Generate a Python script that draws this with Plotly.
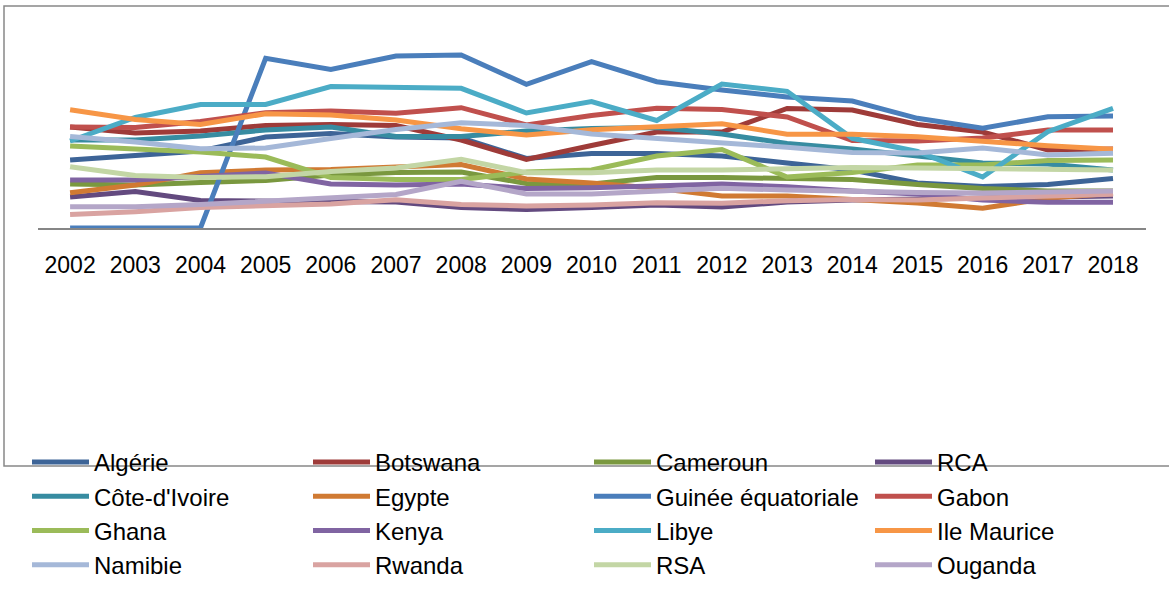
import plotly.graph_objects as go

years = list(range(2002, 2019))

# Indicator values per country, 2002-2018
algerie = [6.80, 7.20, 7.70, 9.10, 9.45, 9.10, 9.00, 6.95, 7.45, 7.45, 7.20, 6.50, 5.80, 4.50, 4.15, 4.35, 4.95]
botswana = [10.10, 9.50, 9.70, 10.25, 10.35, 10.25, 8.80, 6.85, 8.25, 9.60, 9.60, 11.95, 11.80, 10.35, 9.60, 7.80, 7.90]
cameroun = [4.40, 4.30, 4.55, 4.75, 5.30, 5.55, 5.60, 4.45, 4.40, 5.05, 5.05, 4.90, 4.85, 4.35, 3.95, 3.70, 3.70]
rca = [3.10, 3.65, 2.75, 2.70, 2.65, 2.60, 2.05, 1.85, 2.05, 2.30, 2.10, 2.60, 2.80, 2.90, 3.00, 3.10, 3.20]
cote_ivoire = [8.80, 8.80, 9.20, 9.80, 10.10, 9.15, 9.15, 9.70, 9.95, 10.05, 9.40, 8.45, 7.90, 7.20, 6.50, 6.40, 5.80]
egypte = [3.53, 4.30, 5.53, 5.80, 5.85, 6.05, 6.35, 4.90, 4.50, 3.97, 3.20, 3.20, 2.90, 2.50, 1.97, 2.97, 3.47]
guinee_eq = [0.00, 0.00, 0.00, 16.97, 15.85, 17.20, 17.30, 14.37, 16.63, 14.63, 13.80, 13.10, 12.70, 10.97, 9.97, 11.13, 11.20]
gabon = [10.10, 10.05, 10.65, 11.53, 11.70, 11.47, 12.03, 10.30, 11.25, 11.97, 11.85, 11.10, 8.75, 8.70, 9.00, 9.80, 9.80]
ghana = [8.20, 7.95, 7.60, 7.10, 5.05, 4.85, 4.85, 5.60, 5.80, 7.20, 7.85, 5.10, 5.55, 6.30, 6.30, 6.75, 6.80]
kenya = [4.80, 4.80, 5.15, 5.50, 4.40, 4.30, 4.40, 3.95, 4.03, 4.20, 4.40, 4.13, 3.70, 3.40, 2.80, 2.57, 2.57]
libye = [8.70, 11.05, 12.35, 12.35, 14.15, 14.03, 13.97, 11.50, 12.65, 10.75, 14.40, 13.67, 8.97, 7.65, 5.10, 9.63, 11.97]
ile_maurice = [11.83, 10.85, 10.35, 11.43, 11.30, 10.80, 9.92, 9.30, 9.83, 10.17, 10.42, 9.37, 9.38, 9.13, 8.63, 8.22, 7.88]
namibie = [9.15, 8.60, 7.92, 8.00, 8.95, 9.85, 10.53, 10.25, 9.40, 8.97, 8.47, 8.07, 7.55, 7.50, 8.00, 7.30, 7.47]
rwanda = [1.35, 1.63, 2.05, 2.20, 2.40, 2.83, 2.35, 2.20, 2.30, 2.53, 2.47, 2.73, 2.85, 2.80, 2.97, 3.15, 3.38]
rsa = [6.13, 5.25, 5.05, 5.13, 5.65, 6.00, 6.87, 5.53, 5.53, 5.80, 5.80, 5.97, 6.05, 6.00, 5.93, 5.80, 5.80]
ouganda = [2.13, 2.13, 2.35, 2.65, 2.97, 3.35, 4.68, 3.40, 3.40, 3.63, 3.97, 3.80, 3.63, 3.55, 3.50, 3.60, 3.70]

series = [
    ("Algérie", algerie, "#3D6497"),
    ("Botswana", botswana, "#9E3B39"),
    ("Cameroun", cameroun, "#7A983F"),
    ("RCA", rca, "#634A7F"),
    ("Côte-d'Ivoire", cote_ivoire, "#378CA1"),
    ("Egypte", egypte, "#D07A33"),
    ("Guinée équatoriale", guinee_eq, "#4A7EBB"),
    ("Gabon", gabon, "#C0504D"),
    ("Ghana", ghana, "#9BBB59"),
    ("Kenya", kenya, "#8064A2"),
    ("Libye", libye, "#4BACC6"),
    ("Ile Maurice", ile_maurice, "#F79646"),
    ("Namibie", namibie, "#A5B8D8"),
    ("Rwanda", rwanda, "#D9A3A1"),
    ("RSA", rsa, "#C3D6A5"),
    ("Ouganda", ouganda, "#B4A6C8"),
]

fig = go.Figure()
for name, vals, color in series:
    fig.add_trace(go.Scatter(
        x=years, y=vals, name=name, mode="lines",
        line=dict(color=color, width=5),
    ))

W, H = 1169, 591
mt, mb = 20, 363
# horizontal extent of the category axis inside the full-width plot region
ax_left, ax_right = 37.5, 1145.6
ph = H - mt - mb

fig.update_layout(
    width=W, height=H,
    margin=dict(l=0, r=0, t=mt, b=mb),
    paper_bgcolor="white", plot_bgcolor="rgba(0,0,0,0)",
    font=dict(family="Liberation Sans, Arial, sans-serif", color="#000000"),
    xaxis=dict(
        domain=[ax_left / W, ax_right / W],
        range=[2001.5, 2018.5], tickmode="array", tickvals=years,
        ticktext=[str(y) for y in years], showgrid=False, zeroline=False,
        showline=True, linecolor="#868686", linewidth=2,
        ticks="", tickfont=dict(size=23), ticklabelstandoff=15,
    ),
    yaxis=dict(range=[0, 20.8], visible=False),
    showlegend=True,
    legend=dict(
        orientation="h", xref="container", yref="container",
        x=27 / W, y=1 - 440 / H, xanchor="left", yanchor="top",
        font=dict(size=24), entrywidthmode="pixels", entrywidth=209,
        itemwidth=57, tracegroupgap=0, bgcolor="rgba(0,0,0,0)",
    ),
    shapes=[dict(
        type="rect", xref="paper", yref="paper",
        x0=4 / W, x1=(W + 10) / W,
        y0=(mb - H - 10) / ph, y1=(H - mb - 6) / ph,
        line=dict(color="#888888", width=1.5), fillcolor="rgba(0,0,0,0)",
        layer="below",
    )],
)

fig.write_html("out.html")
